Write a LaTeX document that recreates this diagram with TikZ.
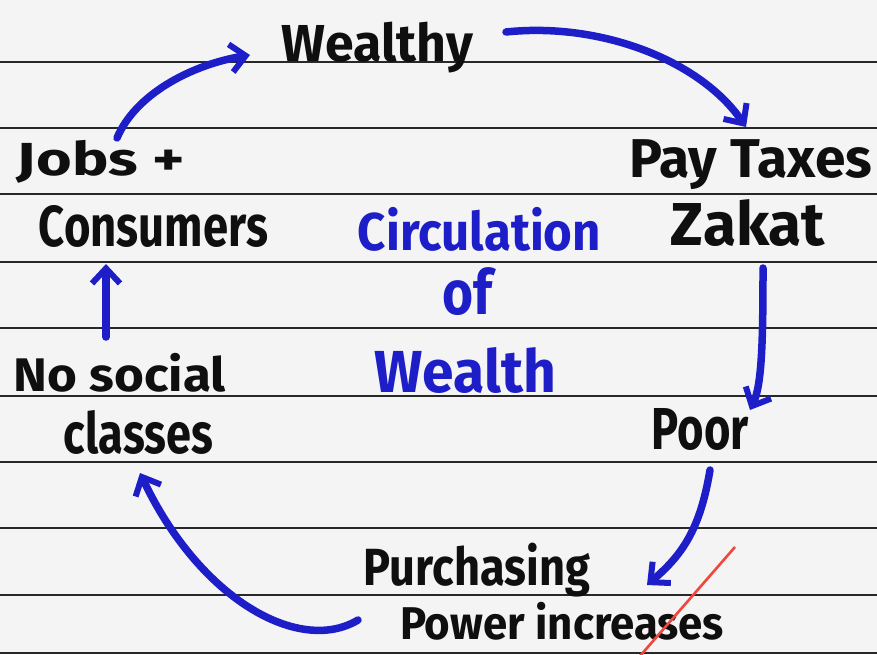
\documentclass[tikz,border=0pt]{standalone}
\usepackage{fontspec}
\usepackage{graphicx}
\setmainfont{Fira Sans}
\usetikzlibrary{arrows.meta}
\definecolor{paper}{RGB}{244,244,244}
\definecolor{rule}{RGB}{40,40,40}
\definecolor{ink}{RGB}{15,15,15}
\definecolor{pen}{RGB}{30,30,200}
\definecolor{redpen}{RGB}{240,70,60}
\newcommand{\fitword}[3]{\resizebox*{#1pt}{#2pt}{\bfseries #3}}
\tikzset{
  word/.style={inner sep=0pt, outer sep=0pt, text=ink, anchor=center},
  blueword/.style={word, text=pen},
  flow/.style={draw=pen, line width=7.5pt, line cap=round,
    -{Straight Barb[length=15pt,width=28pt,line width=6pt]}},
  ruleline/.style={draw=rule, line width=1.8pt}
}
\begin{document}
\begin{tikzpicture}[x=1pt,y=-1pt]
\useasboundingbox (0,0) rectangle (877,654);
\fill[paper] (0,0) rectangle (877,654);
\foreach \yy in {62,128,194,262,328,396,462,528,595,653}
  \draw[ruleline] (0,\yy) -- (877,\yy);

% texts
\node[word] (wealthy) at (377.5,47.5) {\fitword{191}{51}{Wealthy}};
\node[word] (jobs) at (101,161.5) {\fitword{168}{43}{Jobs +}};
\node[word] (consumers) at (153.5,226) {\fitword{229}{42}{Consumers}};
\node[word] (pay) at (750.5,165) {\fitword{243}{50}{Pay Taxes}};
\node[word] (zakat) at (748,223.5) {\fitword{154}{47}{Zakat}};
\node[word] (poor) at (700.5,429) {\fitword{97}{42}{Poor}};
\node[word] (purch) at (477,570) {\fitword{226}{54}{Purchasing}};
\node[word] (power) at (562,621) {\fitword{324}{38}{Power increases}};
\node[word] (nosocial) at (120,372.5) {\fitword{212}{39}{No social}};
\node[word] (classes) at (138.5,432) {\fitword{149}{44}{classes}};
\node[blueword] (circ) at (479.5,229) {\fitword{243}{44}{Circulation}};
\node[blueword] (of) at (467,292) {\fitword{50}{48}{of}};
\node[blueword] (wealth) at (465.5,370) {\fitword{181}{46}{Wealth}};

% connector ends
\coordinate (a1s) at (117,138);
\coordinate (a1e) at (250,55);
\coordinate (a2s) at (506,32);
\coordinate (a2e) at (746,127);
\coordinate (a3s) at (763,268);
\coordinate (a3e) at (750,410);
\coordinate (a4s) at (710,470);
\coordinate (a4e) at (647,585);
\coordinate (a5s) at (358,620);
\coordinate (a5e) at (140,473);
\coordinate (a6s) at (106,337);
\coordinate (a6e) at (106,264);
\coordinate (rs) at (735,547);
\coordinate (re) at (640,656);

\draw[flow] (a1s) .. controls (135,95) and (190,65) .. (a1e);
\draw[flow] (a2s) .. controls (600,22) and (700,60) .. (a2e);
\draw[flow] (a3s) .. controls (763,340) and (762,385) .. (a3e);
\draw[flow] (a4s) .. controls (700,530) and (682,555) .. (a4e);
\draw[flow] (a5s) .. controls (300,655) and (200,600) .. (a5e);
\draw[flow] (a6s) -- (a6e);
\draw[draw=redpen, line width=2.6pt] (rs) -- (re);
\end{tikzpicture}
\end{document}
